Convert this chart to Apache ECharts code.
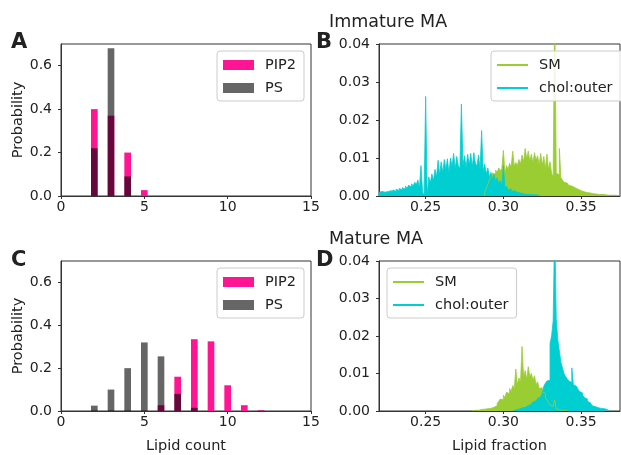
<!DOCTYPE html>
<html><head><meta charset="utf-8">
<script src="https://cdn.jsdelivr.net/npm/echarts@6/dist/echarts.min.js"></script>
<style>html,body{margin:0;padding:0;background:#fff}#c{width:621px;height:455px}</style>
</head><body><div id="c"></div>
<script>
// ---------- data ----------
const countCats = [2, 3, 4, 5, 6, 7, 8, 9, 10, 11, 12];
// Immature MA (A)
const immPIP2 = [0.40, 0.37, 0.20, 0.027, 0, 0, 0, 0, 0, 0, 0];
const immPS   = [0.22, 0.68, 0.09, 0, 0, 0, 0, 0, 0, 0, 0];
// Mature MA (C)
const matPIP2 = [0, 0, 0, 0, 0.027, 0.16, 0.335, 0.325, 0.12, 0.027, 0.003];
const matPS   = [0.025, 0.10, 0.20, 0.32, 0.255, 0.08, 0.015, 0, 0, 0, 0.001];

const countTicks = [0, 5, 10, 15];
const probTicks = [0, 0.2, 0.4, 0.6];
const fracTicks = [0.25, 0.30, 0.35];
const densTicks = [0, 0.01, 0.02, 0.03, 0.04];

// lipid fraction histograms, bin width 0.001, values per bin from start
const binW = 0.001;
const immCholStart = 0.220;
const immChol = [
 0.0010,0.0012,0.0008,0.0010,0.0006,0.0012,0.0010,0.0014,0.0008,0.0016,
 0.0012,0.0018,0.0014,0.0020,0.0016,0.0022,0.0018,0.0026,0.0020,0.0028,
 0.0024,0.0032,0.0026,0.0036,0.0030,0.0042,0.0020,0.0080,0.0012,0.0000,
 0.0262,0.0000,0.0050,0.0034,0.0058,0.0040,0.0070,0.0050,0.0094,0.0056,
 0.0090,0.0062,0.0096,0.0070,0.0098,0.0060,0.0100,0.0078,0.0112,0.0072,
 0.0104,0.0080,0.0070,0.0242,0.0080,0.0106,0.0074,0.0110,0.0082,0.0112,
 0.0076,0.0114,0.0086,0.0078,0.0108,0.0070,0.0172,0.0064,0.0084,0.0058,
 0.0074,0.0050,0.0062,0.0044,0.0056,0.0038,0.0048,0.0032,0.0040,0.0026,
 0.0080,0.0020,0.0026,0.0016,0.0018,0.0012,0.0014,0.0010,0.0010,0.0008,
 0.0008,0.0006,0.0006,0.0006,0.0004,0.0004,0.0004,0.0004,0.0003,0.0003,
 0.0003,0.0002,0.0002,0.0002
];
const immSMStart = 0.288;
const immSM = [
 0.0010,0.0020,0.0030,0.0042,0.0050,0.0060,0.0058,0.0068,0.0062,0.0074,
 0.0066,0.0072,0.0120,0.0060,0.0080,0.0070,0.0086,0.0076,0.0118,0.0078,
 0.0088,0.0080,0.0096,0.0084,0.0108,0.0090,0.0125,0.0098,0.0118,0.0092,
 0.0110,0.0086,0.0114,0.0094,0.0106,0.0082,0.0112,0.0080,0.0104,0.0072,
 0.0110,0.0070,0.0090,0.0060,0.0050,0.0500,0.0060,0.0056,0.0125,0.0048,
 0.0042,0.0036,0.0034,0.0030,0.0028,0.0026,0.0024,0.0022,0.0020,0.0018,
 0.0016,0.0014,0.0012,0.0011,0.0010,0.0009,0.0008,0.0008,0.0007,0.0006,
 0.0006,0.0005,0.0005,0.0004,0.0004,0.0004,0.0003,0.0003,0.0003,0.0002,
 0.0003,0.0002,0.0002,0.0002,0.0001,0.0001,0.0001
];
const matSMStart = 0.280;
const matSM = [
 0.0002,0.0002,0.0003,0.0002,0.0004,0.0004,0.0006,0.0005,0.0007,0.0006,
 0.0008,0.0007,0.0009,0.0010,0.0012,0.0014,0.0020,0.0026,0.0032,0.0030,
 0.0042,0.0036,0.0050,0.0046,0.0060,0.0052,0.0068,0.0060,0.0112,0.0070,
 0.0088,0.0076,0.0172,0.0090,0.0108,0.0084,0.0118,0.0092,0.0100,0.0082,
 0.0094,0.0070,0.0078,0.0060,0.0062,0.0050,0.0048,0.0036,0.0030,0.0022,
 0.0016,0.0012,0.0008,0.0030,0.0006,0.0004,0.0003,0.0002,0.0002,0.0001,
 0.0001
];
const matCholStart = 0.306;
const matChol = [
 0.0002,0.0003,0.0004,0.0005,0.0006,0.0008,0.0009,0.0010,0.0012,0.0014,
 0.0016,0.0018,0.0021,0.0024,0.0027,0.0030,0.0034,0.0038,0.0042,0.0048,
 0.0066,0.0074,0.0080,0.0082,0.0180,0.0200,0.0240,0.0500,0.0245,0.0190,
 0.0160,0.0130,0.0115,0.0100,0.0092,0.0086,0.0080,0.0076,0.0115,0.0070,
 0.0066,0.0062,0.0058,0.0052,0.0048,0.0042,0.0036,0.0032,0.0026,0.0022,
 0.0018,0.0014,0.0012,0.0010,0.0009,0.0008,0.0007,0.0006,0.0006,0.0005,
 0.0004,0.0003
];

// ---------- helpers ----------
const FONT = 'DejaVu Sans';
const TXT = '#222';
const PINK = '#ff1493', PSCOL = 'rgba(0,0,0,0.6)';
const GREEN = '#9acd32', CYAN = '#00ced1';

const grids = [
  {left: 61, top: 44, width: 250, height: 152},
  {left: 379, top: 44, width: 241, height: 152},
  {left: 61, top: 261, width: 250, height: 152},
  {left: 379, top: 261, width: 241, height: 152}
];
const countRange = [0, 15];
const fracRange = [0.22, 0.375];
const barW = grids[0].width / (countRange[1] - countRange[0]) * 0.4;

function pairs(xs, ys) { return xs.map((x, i) => [x, ys[i]]); }
// histogram outline: each bin contributes its left and right edge at its height
function histPts(start, vals) {
  const pts = [[start, 0]];
  vals.forEach((v, i) => {
    pts.push([start + i * binW, v]);
    pts.push([start + (i + 1) * binW, v]);
  });
  pts.push([start + vals.length * binW, 0]);
  return pts;
}

function xAxis(gi, range, ticks, dec, name) {
  return {
    type: 'value', gridIndex: gi, min: range[0], max: range[1],
    axisLine: {show: true, onZero: false, lineStyle: {color: '#333', width: 1}},
    axisTick: {show: true, inside: false, length: 3, customValues: ticks, lineStyle: {color: '#333'}},
    axisLabel: {customValues: ticks, formatter: v => v.toFixed(dec), margin: 4,
      fontFamily: FONT, fontSize: 14, color: TXT},
    splitLine: {show: false},
    name: name || '', nameLocation: 'middle', nameGap: 28,
    nameTextStyle: {fontFamily: FONT, fontSize: 14.5, color: TXT}
  };
}
function yAxis(gi, max, ticks, dec, name) {
  return {
    type: 'value', gridIndex: gi, min: 0, max: max,
    axisLine: {show: true, lineStyle: {color: '#333', width: 1}},
    axisTick: {show: true, length: 3, customValues: ticks, lineStyle: {color: '#333'}},
    axisLabel: {customValues: ticks, formatter: v => v.toFixed(dec), margin: 9,
      fontFamily: FONT, fontSize: 14, color: TXT},
    splitLine: {show: false},
    name: name || '', nameLocation: 'middle', nameRotate: 90, nameGap: 35,
    nameTextStyle: {fontFamily: FONT, fontSize: 14.5, color: TXT}
  };
}
function legend(left, top, names, isLine, rightPad) {
  return {
    left: left, top: top, orient: 'vertical',
    data: names.map(n => ({name: n, icon: 'rect'})),
    itemWidth: 31, itemHeight: isLine ? 2 : 10, itemGap: 7,
    padding: [6, rightPad || 8, 5, 6],
    backgroundColor: 'rgba(255,255,255,0.85)', borderColor: '#ccc', borderWidth: 1, borderRadius: 3,
    textStyle: {fontFamily: FONT, fontSize: 14.5, color: TXT, padding: [0, 0, 0, 6], lineHeight: 16},
    selectedMode: false
  };
}
function bar(name, gi, data, color) {
  return {type: 'bar', name: name, xAxisIndex: gi, yAxisIndex: gi, data: pairs(countCats, data),
    barWidth: barW, barGap: '-100%', itemStyle: {color: color}, silent: true};
}
function hist(name, gi, start, vals, color) {
  return {type: 'line', name: name, xAxisIndex: gi, yAxisIndex: gi, data: histPts(start, vals),
    symbol: 'none', showSymbol: false, clip: true, smooth: false,
    lineStyle: {color: color, width: 0.8}, itemStyle: {color: color},
    areaStyle: {color: color, opacity: 1}, silent: true};
}
function txt(x, y, s, size, weight, align) {
  return {type: 'text', left: x, top: y, style: {text: s, font: (weight || 'normal') + ' ' + size + 'px "' + FONT + '"',
    fill: TXT, textAlign: align || 'left'}};
}

const chart = echarts.init(document.getElementById('c'), null, {renderer: 'canvas'});
chart.setOption({
  animation: false,
  backgroundColor: '#fff',
  grid: grids.map(g => Object.assign({show: true, borderColor: '#333', borderWidth: 1, backgroundColor: 'transparent'}, g)),
  xAxis: [
    xAxis(0, countRange, countTicks, 0),
    xAxis(1, fracRange, fracTicks, 2),
    xAxis(2, countRange, countTicks, 0, 'Lipid count'),
    xAxis(3, fracRange, fracTicks, 2, 'Lipid fraction')
  ],
  yAxis: [
    yAxis(0, 0.7, probTicks, 1, 'Probability'),
    yAxis(1, 0.04, densTicks, 2),
    yAxis(2, 0.7, probTicks, 1, 'Probability'),
    yAxis(3, 0.04, densTicks, 2)
  ],
  legend: [
    legend(217, 51, ['PIP2', 'PS'], false),
    legend(491, 51, ['SM', 'chol:outer'], true, 14),
    legend(217, 268, ['PIP2', 'PS'], false),
    legend(387, 268, ['SM', 'chol:outer'], true)
  ],
  series: [
    bar('PIP2', 0, immPIP2, PINK),
    bar('PS', 0, immPS, PSCOL),
    hist('SM', 1, immSMStart, immSM, GREEN),
    hist('chol:outer', 1, immCholStart, immChol, CYAN),
    bar('PIP2', 2, matPIP2, PINK),
    bar('PS', 2, matPS, PSCOL),
    hist('SM', 3, matSMStart, matSM, GREEN),
    hist('chol:outer', 3, matCholStart, matChol, CYAN)
  ],
  graphic: [
    txt(329, 13, 'Immature MA', 17.5, 'normal', 'center'),
    txt(329, 230, 'Mature MA', 17.5, 'normal', 'center'),
    txt(11, 32, 'A', 21, 'bold'),
    txt(316, 32, 'B', 21, 'bold'),
    txt(11, 250, 'C', 21, 'bold'),
    txt(316, 250, 'D', 21, 'bold')
  ]
});
</script></body></html>
